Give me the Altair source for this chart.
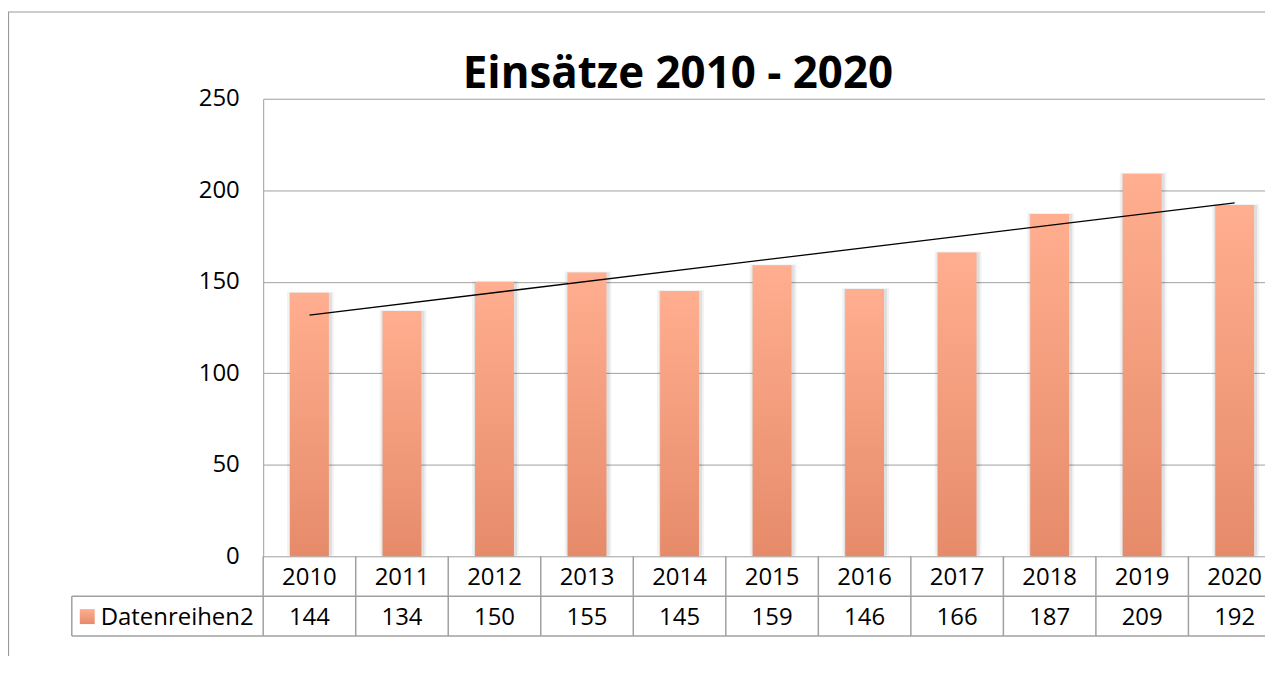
import altair as alt
import pandas as pd

# ---- data -------------------------------------------------------------
years = [2010, 2011, 2012, 2013, 2014, 2015, 2016, 2017, 2018, 2019, 2020]
values = [144, 134, 150, 155, 145, 159, 146, 166, 187, 209, 192]
series_name = "Datenreihen2"
chart_title = "Einsätze 2010 - 2020"
y_ticks = [0, 50, 100, 150, 200, 250]

df = pd.DataFrame({"year": years, "value": values})
deco = pd.DataFrame({"k": [0]})

# ---- styling ----------------------------------------------------------
W = 1005          # visible plot width
H = 459           # plot height
BAND_RANGE = 1021 # full band range (last column is cut by the window)
GRID = "#a0a0a0"
FONT = "Open Sans"
FS = 24

bar_grad = alt.LinearGradient(
    gradient="linear", x1=0, x2=0, y1=0, y2=1,
    stops=[alt.GradientStop(color="#FFAE8F", offset=0),
           alt.GradientStop(color="#E68B6A", offset=1)],
)

def xenc(**kw):
    return alt.X("year:O",
                 scale=alt.Scale(range=[0, BAND_RANGE], paddingInner=0, paddingOuter=0),
                 axis=None, **kw)

yenc = alt.Y("value:Q",
             scale=alt.Scale(domain=[0, 250], nice=False, zero=True),
             axis=alt.Axis(values=y_ticks, title=None, ticks=False, labelPadding=24,
                           labelFont=FONT, labelFontSize=FS, labelColor="#000000",
                           domainColor=GRID, gridColor=GRID, grid=True))

base = alt.Chart(df)

shadow1 = base.mark_bar(size=47, color="#000000", opacity=0.05, xOffset=1, yOffset=-1).encode(x=xenc(), y=yenc)
shadow2 = base.mark_bar(size=43, color="#000000", opacity=0.08, xOffset=1).encode(x=xenc(), y=alt.Y("value:Q"))
bars = base.mark_bar(size=39, color=bar_grad).encode(x=xenc(), y=alt.Y("value:Q"))

trend = base.transform_regression("year", "value").mark_line(
    color="#000000", strokeWidth=1.3).encode(x=xenc(), y=alt.Y("value:Q"))

# table: vertical separators at band edges
seps = base.mark_rule(color=GRID, strokeWidth=1.5).encode(
    x=xenc(bandPosition=0), y=alt.value(H), y2=alt.value(H + 80))

year_txt = base.mark_text(font=FONT, fontSize=FS, baseline="alphabetic", color="#000000").encode(
    x=xenc(), y=alt.value(H + 29), text=alt.Text("year:O"))
val_txt = base.mark_text(font=FONT, fontSize=FS, baseline="alphabetic", color="#000000").encode(
    x=xenc(), y=alt.value(H + 69), text=alt.Text("value:Q"))

d = alt.Chart(deco)
hline1 = d.mark_rule(color=GRID, strokeWidth=1.5).encode(x=alt.value(-192), x2=alt.value(W), y=alt.value(H + 40))
hline2 = d.mark_rule(color=GRID, strokeWidth=1.5).encode(x=alt.value(-192), x2=alt.value(W), y=alt.value(H + 80))
vleft = d.mark_rule(color=GRID, strokeWidth=1.5).encode(x=alt.value(-192), y=alt.value(H + 40), y2=alt.value(H + 80))

swatch = d.mark_rect(color=bar_grad).encode(
    x=alt.value(-184), x2=alt.value(-169), y=alt.value(H + 53), y2=alt.value(H + 68))
legend_txt = d.mark_text(text=series_name, font=FONT, fontSize=FS, align="left",
                         baseline="alphabetic", color="#000000").encode(
    x=alt.value(-163), y=alt.value(H + 69))

title_txt = d.mark_text(text=chart_title, font=FONT, fontSize=44, fontWeight="bold",
                        align="center", baseline="alphabetic", color="#000000").encode(
    x=alt.value(416), y=alt.value(-11))

frame_top = d.mark_rule(color="#9a9a9a", strokeWidth=1.2).encode(
    x=alt.value(-256), x2=alt.value(W), y=alt.value(-87))
frame_left = d.mark_rule(color="#9a9a9a", strokeWidth=1.2).encode(
    x=alt.value(-255.5), y=alt.value(-87), y2=alt.value(H + 100))

chart = alt.layer(
    shadow1, shadow2, bars, trend, seps, year_txt, val_txt,
    hline1, hline2, vleft, swatch, legend_txt, title_txt, frame_top, frame_left,
).properties(
    width=W, height=H,
    padding={"left": 256, "top": 90, "right": 0, "bottom": 100},
    autosize=alt.AutoSizeParams(type="none"),
    background="white",
).configure_view(strokeWidth=0)

chart.save("out.html", embed_options={"renderer": "svg", "actions": False})
